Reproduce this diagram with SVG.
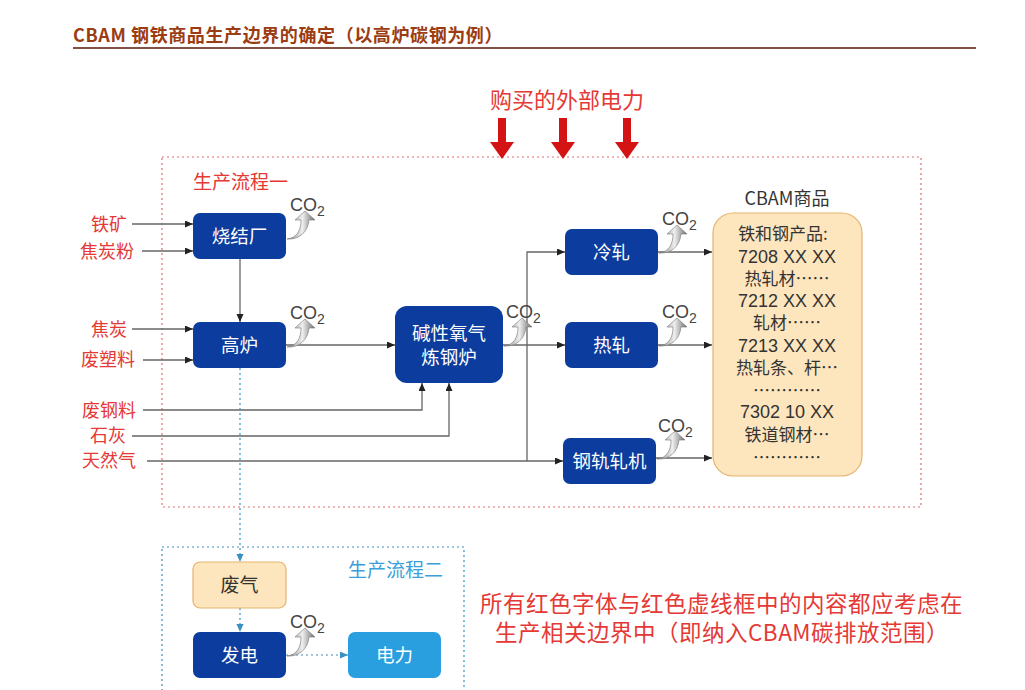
<svg xmlns="http://www.w3.org/2000/svg" width="1025" height="690" viewBox="0 0 1025 690">
<defs>
<style>
text{font-family:"Noto Sans CJK SC","Liberation Sans",sans-serif}
.title{font-size:18px;font-weight:bold;fill:#9b3c12;letter-spacing:0.6px}
.red{fill:#e53935;font-size:18px}
.node{fill:#0b3c9e}
.nt{fill:#fff;font-size:18.5px;text-anchor:middle}
.peach{fill:#fde5bd;stroke:#e6b46c;stroke-width:1.2}
.ct{fill:#333;font-size:17px;text-anchor:middle}
.lat{font-family:"Liberation Sans",Arial,sans-serif;font-size:18px}
.co{font-family:"Liberation Sans",Arial,sans-serif;fill:#444;font-size:18px}
.con{fill:none;stroke:#666;stroke-width:1.3}
.blu{fill:none;stroke:#3a8fc0;stroke-width:1.2;stroke-dasharray:2 3}
.note{fill:#e53935;font-size:22.5px;letter-spacing:0.5px}
</style>
<linearGradient id="g" x1="0" y1="0" x2="1" y2="0">
<stop offset="0" stop-color="#8a8a8a"/><stop offset="0.55" stop-color="#eeeeee"/><stop offset="1" stop-color="#6e6e6e"/>
</linearGradient>
<g id="co2a"><path d="M0,1 C10,0 14,-8 14,-18 L8,-18 L18,-27 L28,-18 L22,-18 C21,-6 12,2 0,1 Z" fill="url(#g)" stroke="#777" stroke-width="0.6"/></g>
<marker id="ah" markerUnits="userSpaceOnUse" markerWidth="9" markerHeight="8" refX="8" refY="3.5" orient="auto"><path d="M0,0 L8,3.5 L0,7 z" fill="#222"/></marker>
<marker id="bh" markerUnits="userSpaceOnUse" markerWidth="9" markerHeight="8" refX="8" refY="3.5" orient="auto"><path d="M0,0 L8,3.5 L0,7 z" fill="#3a8fc0"/></marker>
</defs>
<rect width="1025" height="690" fill="#fff"/>

<g id="title">
<text class="title" x="73" y="42">CBAM 钢铁商品生产边界的确定（以高炉碳钢为例）</text>
<line x1="73" y1="48" x2="976" y2="48" stroke="#5a1608" stroke-width="1.6"/>
</g>

<g id="boundary1">
<rect x="162" y="157" width="759" height="350" fill="none" stroke="#e07070" stroke-width="1.2" stroke-dasharray="2 3"/>
<text x="193" y="189" fill="#e53935" font-size="19">生产流程一</text>
</g>

<g id="power">
<text x="567" y="108" fill="#e53935" font-size="22" text-anchor="middle">购买的外部电力</text>
<polygon points="498,118 506,118 506,142 514,142 502,159 490,142 498,142" fill="#d41414"/>
<polygon points="559,118 567,118 567,142 575,142 563,159 551,142 559,142" fill="#d41414"/>
<polygon points="623,118 631,118 631,142 639,142 627,159 615,142 623,142" fill="#d41414"/>
</g>

<g id="inputs">
<text x="127" y="231" class="red" text-anchor="end">铁矿</text>
<text x="134" y="258" class="red" text-anchor="end">焦炭粉</text>
<text x="127" y="336" class="red" text-anchor="end">焦炭</text>
<text x="135" y="366" class="red" text-anchor="end">废塑料</text>
<text x="136" y="417" class="red" text-anchor="end">废钢料</text>
<text x="126" y="442" class="red" text-anchor="end">石灰</text>
<text x="136" y="467" class="red" text-anchor="end">天然气</text>
</g>

<g id="connectors">
<line class="con" x1="132" y1="224" x2="193" y2="224" marker-end="url(#ah)"/>
<line class="con" x1="142" y1="251" x2="193" y2="251" marker-end="url(#ah)"/>
<line class="con" x1="132" y1="329" x2="193" y2="329" marker-end="url(#ah)"/>
<line class="con" x1="143" y1="360" x2="193" y2="360" marker-end="url(#ah)"/>
<line class="con" x1="240" y1="259" x2="240" y2="322" marker-end="url(#ah)"/>
<line class="con" x1="286" y1="345" x2="395" y2="345" marker-end="url(#ah)"/>
<polyline class="con" points="143,410 422,410 422,383" marker-end="url(#ah)"/>
<polyline class="con" points="132,436 449,436 449,383" marker-end="url(#ah)"/>
<line class="con" x1="147" y1="461" x2="563" y2="461" marker-end="url(#ah)"/>
<line class="con" x1="503" y1="345" x2="565" y2="345" marker-end="url(#ah)"/>
<polyline class="con" points="527,461 527,252 565,252" marker-end="url(#ah)"/>
<line class="con" x1="658" y1="252" x2="712" y2="252" marker-end="url(#ah)"/>
<line class="con" x1="658" y1="345" x2="712" y2="345" marker-end="url(#ah)"/>
<line class="con" x1="656" y1="458" x2="712" y2="458" marker-end="url(#ah)"/>
<line class="blu" x1="240" y1="368" x2="240" y2="562" marker-end="url(#bh)"/>
<line class="blu" x1="240" y1="608" x2="240" y2="632" marker-end="url(#bh)"/>
<line class="blu" x1="286" y1="655" x2="348" y2="655" marker-end="url(#bh)"/>
</g>

<g id="sinter">
<rect class="node" x="193" y="213" width="93" height="46" rx="7"/>
<text class="nt" x="239.5" y="243">烧结厂</text>
</g>
<g id="blastfurnace">
<rect class="node" x="193" y="322" width="93" height="46" rx="7"/>
<text class="nt" x="239.5" y="352">高炉</text>
</g>
<g id="bof">
<rect class="node" x="395" y="306" width="108" height="77" rx="12"/>
<text class="nt" x="449" y="340" font-size="18">碱性氧气</text>
<text class="nt" x="449" y="364" font-size="18">炼钢炉</text>
</g>
<g id="coldroll">
<rect class="node" x="565" y="229" width="93" height="46" rx="7"/>
<text class="nt" x="611.5" y="259">冷轧</text>
</g>
<g id="hotroll">
<rect class="node" x="565" y="322" width="93" height="46" rx="7"/>
<text class="nt" x="611.5" y="352">热轧</text>
</g>
<g id="railmill">
<rect class="node" x="563" y="438" width="93" height="46" rx="7"/>
<text class="nt" x="609.5" y="468">钢轨轧机</text>
</g>

<g id="cbam">
<text x="787" y="205" fill="#333" font-size="18" text-anchor="middle">CBAM商品</text>
<rect class="peach" x="713" y="213" width="149" height="263" rx="20"/>
<text class="ct" x="783" y="240">铁和钢产品:</text>
<text class="ct lat" x="787" y="263">7208 XX XX</text>
<text class="ct" x="787" y="285">热轧材……</text>
<text class="ct lat" x="787" y="307">7212 XX XX</text>
<text class="ct" x="787" y="329">轧材……</text>
<text class="ct lat" x="787" y="352">7213 XX XX</text>
<text class="ct" x="787" y="374">热轧条、杆…</text>
<text class="ct" x="787" y="397">…………</text>
<text class="ct lat" x="787" y="418">7302 10 XX</text>
<text class="ct" x="787" y="441">铁道钢材…</text>
<text class="ct" x="787" y="464">…………</text>
</g>

<g id="co2">
<use href="#co2a" x="287" y="238"/>
<text class="co" x="290" y="211">CO<tspan font-size="14" dy="5">2</tspan></text>
<use href="#co2a" x="287" y="346"/>
<text class="co" x="290" y="319">CO<tspan font-size="14" dy="5">2</tspan></text>
<use href="#co2a" x="504" y="345"/>
<text class="co" x="506" y="318">CO<tspan font-size="14" dy="5">2</tspan></text>
<use href="#co2a" x="659" y="252"/>
<text class="co" x="662" y="225">CO<tspan font-size="14" dy="5">2</tspan></text>
<use href="#co2a" x="659" y="345"/>
<text class="co" x="662" y="318">CO<tspan font-size="14" dy="5">2</tspan></text>
<use href="#co2a" x="657" y="458"/>
<text class="co" x="658" y="432">CO<tspan font-size="14" dy="5">2</tspan></text>
<use href="#co2a" x="287" y="655"/>
<text class="co" x="290" y="628">CO<tspan font-size="14" dy="5">2</tspan></text>
</g>

<g id="boundary2">
<rect x="162" y="547" width="302" height="160" fill="none" stroke="#3a8fc0" stroke-width="1.2" stroke-dasharray="2 3"/>
<text x="348" y="577" fill="#3a9fd8" font-size="19">生产流程二</text>
</g>
<g id="wastegas">
<rect class="peach" x="193" y="562" width="93" height="46" rx="7"/>
<text x="239.5" y="592" fill="#333" font-size="19" text-anchor="middle">废气</text>
</g>
<g id="generation">
<rect class="node" x="193" y="632" width="93" height="46" rx="7"/>
<text class="nt" x="239.5" y="662">发电</text>
</g>
<g id="electricity">
<rect x="348" y="632" width="93" height="46" rx="7" fill="#2a9fdf"/>
<text class="nt" x="394.5" y="662">电力</text>
</g>

<g id="note">
<text class="note" x="480" y="612">所有红色字体与红色虚线框中的内容都应考虑在</text>
<text class="note" x="495" y="641">生产相关边界中（即纳入CBAM碳排放范围）</text>
</g>
</svg>
